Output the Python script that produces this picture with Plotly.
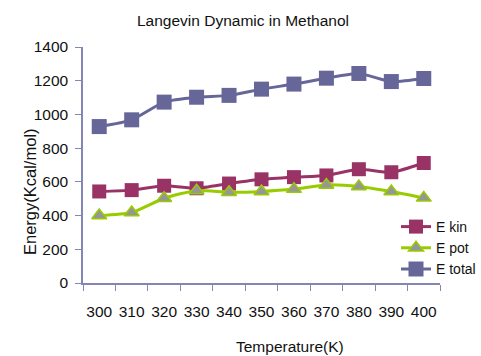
import plotly.graph_objects as go

# Temperatures (K) and energies (Kcal/mol) from the Langevin dynamics runs
temperature = ["300", "310", "320", "330", "340", "350", "360", "370", "380", "390", "400"]
e_kin = [543, 551, 577, 562, 590, 615, 628, 638, 675, 657, 712]
e_pot = [400, 418, 503, 548, 538, 543, 557, 582, 573, 543, 505]
e_total = [928, 968, 1073, 1102, 1113, 1150, 1180, 1215, 1243, 1195, 1213]
y_ticks = [0, 200, 400, 600, 800, 1000, 1200, 1400]

FONT = "Liberation Sans, Arial, sans-serif"
AXIS = "#8585b5"

fig = go.Figure()
fig.add_trace(go.Scatter(
    x=temperature, y=e_kin, name="E kin", mode="lines+markers",
    line=dict(color="#993366", width=3, shape="spline", smoothing=0.6),
    marker=dict(symbol="square", size=14, color="#993366"),
))
fig.add_trace(go.Scatter(
    x=temperature, y=e_pot, name="E pot", mode="lines+markers",
    line=dict(color="#99cc00", width=3, shape="spline", smoothing=0.6),
    marker=dict(symbol="triangle-up", size=13, color="#969696",
                line=dict(color="#99cc00", width=1.5)),
))
fig.add_trace(go.Scatter(
    x=temperature, y=e_total, name="E total", mode="lines+markers",
    line=dict(color="#666699", width=3, shape="spline", smoothing=0.6),
    marker=dict(symbol="square", size=15, color="#666699"),
))

fig.update_layout(
    width=481, height=356,
    margin=dict(l=83, r=41, t=47, b=73, autoexpand=False),
    paper_bgcolor="white", plot_bgcolor="white",
    font=dict(family=FONT, size=15.5, color="#111111"),
    showlegend=True,
    legend=dict(xref="container", yref="container", x=1.0, y=(356 - 211) / 356,
                xanchor="right", yanchor="top",
                bgcolor="rgba(0,0,0,0)", font=dict(size=14, color="#111111"),
                tracegroupgap=0, itemwidth=30),
    annotations=[
        dict(text="Langevin Dynamic in Methanol", xref="paper", yref="paper",
             x=(243 - 83) / 357, y=(283 - 20) / 236, showarrow=False,
             font=dict(size=15.5), xanchor="center", yanchor="middle"),
        dict(text="Temperature(K)", xref="paper", yref="paper",
             x=(290 - 83) / 357, y=(283 - 346) / 236, showarrow=False,
             font=dict(size=15.5), xanchor="center", yanchor="middle"),
        dict(text="Energy(Kcal/mol)", xref="paper", yref="paper",
             x=(30 - 83) / 357, y=(283 - 192) / 236, showarrow=False,
             textangle=-90, font=dict(size=16.5), xanchor="center", yanchor="middle"),
    ],
)

fig.update_xaxes(
    type="category", range=[-0.5, len(temperature) - 0.5],
    tickson="boundaries", ticks="outside", ticklen=6,
    tickcolor=AXIS, showline=True, linecolor=AXIS, linewidth=1.5,
    showgrid=False, zeroline=False, ticklabelstandoff=14, tickangle=0,
    tickfont=dict(size=15.5), automargin=False,
)
fig.update_yaxes(
    range=[0, 1400], tickvals=y_ticks, ticks="outside", ticklen=6,
    tickcolor=AXIS, showline=True, linecolor=AXIS, linewidth=1.5,
    showgrid=False, zeroline=False, ticklabelstandoff=4,
    tickfont=dict(size=15.5), automargin=False,
)

fig.write_html("out.html")
